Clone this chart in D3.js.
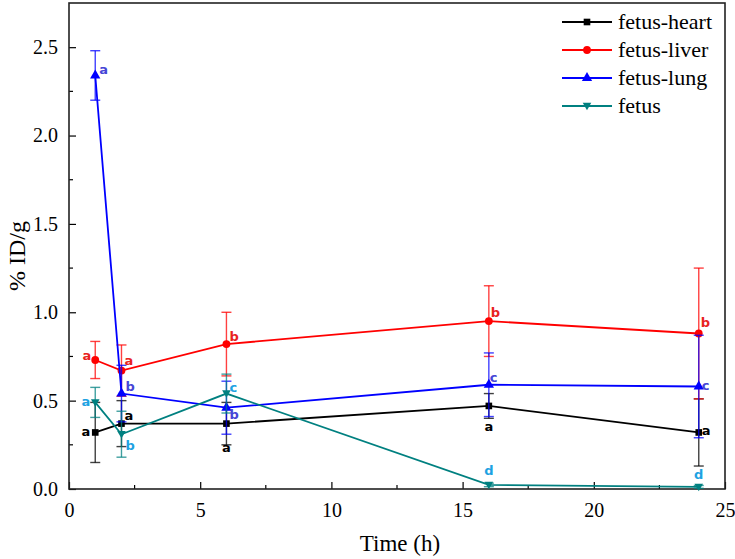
<!DOCTYPE html>
<html>
<head>
<meta charset="utf-8">
<script src="https://cdn.jsdelivr.net/npm/d3@7"></script>
<style>
  html, body { margin: 0; padding: 0; background: #fff; }
  svg { display: block; }
</style>
</head>
<body>
<svg id="chart" width="735" height="559"></svg>
<script>
// ---------------- data ----------------
const times = [1, 2, 6, 16, 24];
const seriesNames = ["fetus-heart", "fetus-liver", "fetus-lung", "fetus"];
const heart    = [0.32, 0.37, 0.37, 0.47, 0.32];
const heartErr = [0.17, 0.13, 0.12, 0.07, 0.19];
const liver    = [0.73, 0.67, 0.82, 0.95, 0.88];
const liverErr = [0.105, 0.145, 0.18, 0.20, 0.37];
const lung     = [2.34, 0.54, 0.46, 0.59, 0.58];
const lungErr  = [0.14, 0.16, 0.15, 0.18, 0.29];
const fetus    = [0.49, 0.31, 0.54, 0.023, 0.012];
const fetusErr = [0.085, 0.13, 0.11, 0.01, 0.008];
const heartLetters = ["a", "a", "a", "a", "a"];
const liverLetters = ["a", "a", "b", "b", "b"];
const lungLetters  = ["a", "b", "b", "c", "c"];
const fetusLetters = ["a", "b", "c", "d", "d"];
const xTicks = [0, 5, 10, 15, 20, 25];
const yTicks = [0, 0.5, 1.0, 1.5, 2.0, 2.5];

// ---------------- layout / style ----------------
const L = 69, R = 725, T = 3, B = 489;
const SERIF = "'Liberation Serif', 'Times New Roman', serif";
const svg = d3.select("#chart");
const x = d3.scaleLinear().domain([0, 25]).range([L, R]);
const y = d3.scaleLinear().domain([0, 2.75]).range([B, T]);

const styles = [
  { color: "#000000", label: "#000000", marker: "square" },
  { color: "#ff0000", label: "#e8231f", marker: "circle" },
  { color: "#0000ff", label: "#4646d6", marker: "triangle" },
  { color: "#008080", label: "#1ea2e2", marker: "triangleDown" }
];
// label placement: [dx, dy, anchor]
const labelPos = [
  [[-5, 0, "end"], [3, -7, "start"], [0, 25, "middle"], [0, 22, "middle"], [3, -1, "start"]],
  [[-4, -3, "end"], [3, -9, "start"], [3, -7, "start"], [2, -8, "start"], [2, -10, "start"]],
  [[4, -5, "start"], [4, -6, "start"], [3, 8, "start"], [1, -6, "start"], [3, 0, "start"]],
  [[-5, 0, "end"], [4, 12, "start"], [3, -5, "start"], [0, -13, "middle"], [0, -11, "middle"]]
];

const series = [
  { vals: heart, err: heartErr, letters: heartLetters },
  { vals: liver, err: liverErr, letters: liverLetters },
  { vals: lung,  err: lungErr,  letters: lungLetters },
  { vals: fetus, err: fetusErr, letters: fetusLetters }
];

function markerPath(type) {
  if (type === "square") return d3.symbol(d3.symbolSquare, 44)();
  if (type === "circle") return d3.symbol(d3.symbolCircle, 48)();
  if (type === "triangle") return d3.symbol(d3.symbolTriangle, 46)();
  return "M-4.3,-3.2L4.3,-3.2L0,4.3Z";
}

// ---------------- axes ----------------
const yAxis = d3.axisLeft(y).tickValues(yTicks).tickSize(-7).tickPadding(11)
  .tickFormat(d3.format(".1f"));
const gy = svg.append("g").attr("transform", `translate(${L},0)`).call(yAxis);
const xAxis = d3.axisBottom(x).tickValues(xTicks).tickSize(-7).tickPadding(14)
  .tickFormat(d3.format("d"));
const gx = svg.append("g").attr("transform", `translate(0,${B})`).call(xAxis);
[gx, gy].forEach(g => {
  g.attr("font-family", SERIF).attr("font-size", 20);
  g.select(".domain").remove();
  g.selectAll(".tick line").attr("stroke", "#000").attr("stroke-width", 1.2);
  g.selectAll(".tick text").attr("fill", "#000").attr("font-family", SERIF);
});
// minor ticks
const yMinor = d3.range(0.25, 2.75, 0.5);
svg.append("g").selectAll("line").data(yMinor).join("line")
  .attr("x1", L).attr("x2", L + 4).attr("y1", d => y(d)).attr("y2", d => y(d))
  .attr("stroke", "#000").attr("stroke-width", 1.2);
const xMinor = d3.range(2.5, 25, 5);
svg.append("g").selectAll("line").data(xMinor).join("line")
  .attr("y1", B).attr("y2", B - 4).attr("x1", d => x(d)).attr("x2", d => x(d))
  .attr("stroke", "#000").attr("stroke-width", 1.2);

// frame
svg.append("rect").attr("x", L).attr("y", T).attr("width", R - L).attr("height", B - T)
  .attr("fill", "none").attr("stroke", "#222").attr("stroke-width", 1.6);

// axis titles
svg.append("text").attr("x", (L + R) / 2 + 3).attr("y", 551).attr("text-anchor", "middle")
  .attr("font-family", SERIF).attr("font-size", 23)
  .text("Time (h)");
svg.append("text").attr("transform", `translate(25,${(T + B) / 2 + 10}) rotate(-90)`)
  .attr("text-anchor", "middle")
  .attr("font-family", SERIF).attr("font-size", 24)
  .text("% ID/g");

// ---------------- series ----------------
const line = d3.line().x(d => x(d[0])).y(d => y(d[1]));
series.forEach((s, i) => {
  const st = styles[i];
  const g = svg.append("g");
  const pts = times.map((t, j) => [t, s.vals[j], s.err[j]]);
  // error bars
  pts.forEach(p => {
    const cx = x(p[0]);
    g.append("line").attr("x1", cx).attr("x2", cx).attr("y1", y(p[1] + p[2])).attr("y2", y(Math.max(0, p[1] - p[2])))
      .attr("stroke", st.color).attr("stroke-opacity", 0.75).attr("stroke-width", 1.4);
    [p[1] + p[2], Math.max(0, p[1] - p[2])].forEach(v => {
      g.append("line").attr("x1", cx - 5).attr("x2", cx + 5).attr("y1", y(v)).attr("y2", y(v))
        .attr("stroke", st.color).attr("stroke-opacity", 0.75).attr("stroke-width", 1.4);
    });
  });
  g.append("path").datum(pts).attr("d", line).attr("fill", "none")
    .attr("stroke", st.color).attr("stroke-width", 1.8);
  g.selectAll(".mk").data(pts).join("path").attr("class", "mk")
    .attr("transform", d => `translate(${x(d[0])},${y(d[1])})`)
    .attr("d", markerPath(st.marker)).attr("fill", st.color);
});

// letters
series.forEach((s, i) => {
  const st = styles[i];
  times.forEach((t, j) => {
    const lp = labelPos[i][j];
    svg.append("text").attr("x", x(t) + lp[0]).attr("y", y(s.vals[j]) + lp[1])
      .attr("text-anchor", lp[2]).attr("dominant-baseline", "middle")
      .attr("font-family", "'DejaVu Sans', Verdana, sans-serif").attr("font-weight", "bold")
      .attr("font-size", 13).attr("fill", st.label).text(s.letters[j]);
  });
});

// ---------------- legend ----------------
const lg = svg.append("g");
seriesNames.forEach((name, i) => {
  const st = styles[i];
  const ly = 22 + i * 28;
  lg.append("line").attr("x1", 562).attr("x2", 612).attr("y1", ly).attr("y2", ly)
    .attr("stroke", st.color).attr("stroke-width", 1.8);
  lg.append("path").attr("transform", `translate(587,${ly})`).attr("d", markerPath(st.marker))
    .attr("fill", st.color);
  lg.append("text").attr("x", 618).attr("y", ly + 7)
    .attr("font-family", SERIF).attr("font-size", 22)
    .text(name);
});
</script>
</body>
</html>
